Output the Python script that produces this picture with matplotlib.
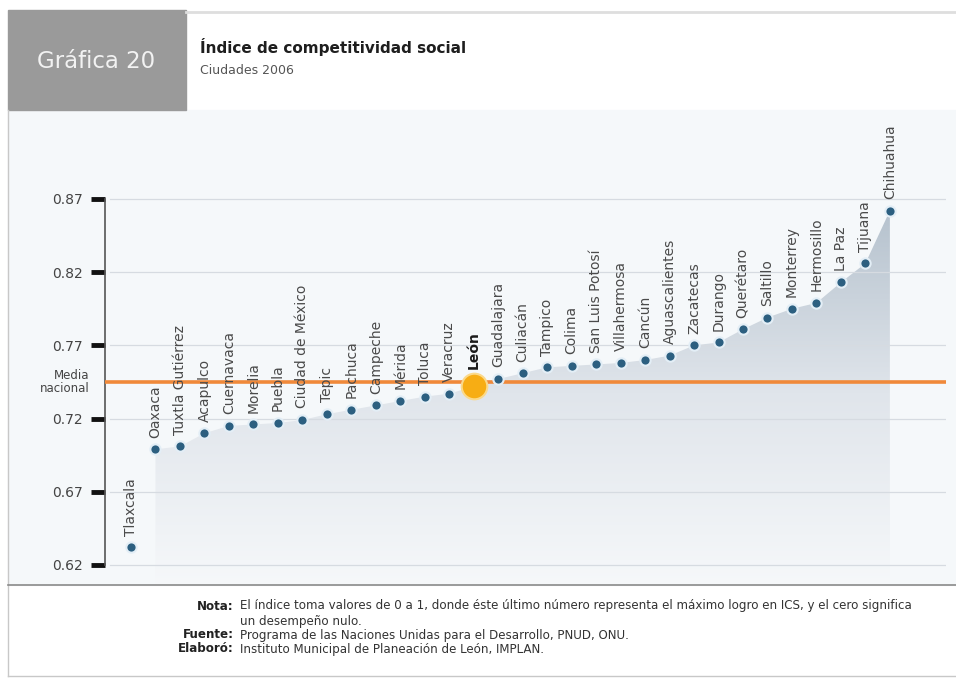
import numpy as np
import matplotlib.pyplot as plt
from matplotlib.patches import Rectangle
from matplotlib.colors import LinearSegmentedColormap

ciudades = ["Tlaxcala", "Oaxaca", "Tuxtla Gutiérrez", "Acapulco", "Cuernavaca", "Morelia",
            "Puebla", "Ciudad de México", "Tepic", "Pachuca", "Campeche", "Mérida", "Toluca",
            "Veracruz", "León", "Guadalajara", "Culiacán", "Tampico", "Colima",
            "San Luis Potosí", "Villahermosa", "Cancún", "Aguascalientes", "Zacatecas",
            "Durango", "Querétaro", "Saltillo", "Monterrey", "Hermosillo", "La Paz",
            "Tijuana", "Chihuahua"]
ics = [0.632, 0.699, 0.701, 0.710, 0.715, 0.716,
       0.717, 0.719, 0.723, 0.726, 0.729, 0.732, 0.735,
       0.737, 0.742, 0.747, 0.751, 0.755, 0.756,
       0.757, 0.758, 0.760, 0.763, 0.770,
       0.772, 0.781, 0.789, 0.795, 0.799, 0.813,
       0.826, 0.862]
media_nacional = 0.745
yticks = [0.62, 0.67, 0.72, 0.77, 0.82, 0.87]
idx_leon = ciudades.index("León")

W, H = 956, 679
fig = plt.figure(figsize=(W / 100, H / 100), dpi=100)
fig.patch.set_facecolor("white")


def fx(x):
    return x / W


def fy(y):
    return 1 - y / H


# frame pieces
fig.add_artist(Rectangle((fx(8), fy(585)), fx(948), 475 / H, color="#f5f8fa", zorder=0))
fig.add_artist(Rectangle((fx(8), fy(110)), 178 / W, 100 / H, color="#9a9a9a", zorder=1))
fig.add_artist(plt.Line2D([fx(186), 1], [fy(12), fy(12)], color="#dedede", lw=2))
fig.add_artist(plt.Line2D([fx(8), fx(8)], [fy(676), fy(110)], color="#c8c8c8", lw=1))
fig.add_artist(plt.Line2D([fx(8), 1], [fy(585), fy(585)], color="#8a8a8a", lw=1.2))
fig.add_artist(plt.Line2D([fx(8), 1], [fy(676), fy(676)], color="#c8c8c8", lw=1))

fig.text(fx(96), fy(62), "Gráfica 20", color="#f2f2f2", fontsize=16.5, ha="center", va="center")
fig.text(fx(200), fy(47), "Índice de competitividad social", color="#1e1e1e", fontsize=11,
         fontweight="bold", va="center")
fig.text(fx(200), fy(70), "Ciudades 2006", color="#555555", fontsize=9, va="center")

# axes
ax = fig.add_axes([fx(105), fy(585), (946 - 105) / W, 475 / H])
ax.patch.set_alpha(0)
per_px = 0.05 / 73.2
ax.set_xlim((105 - 131) / 24.48, (946 - 131) / 24.48)
ax.set_ylim(0.87 - 386 * per_px, 0.87 + 89 * per_px)

x = np.arange(len(ciudades))
y = np.array(ics)

# gradient fill under the curve
cmap = LinearSegmentedColormap.from_list("g", ["#f6f8fa", "#e0e5eb", "#b3c0cc"])
grad = np.linspace(0, 1, 256).reshape(-1, 1)
im = ax.imshow(grad, cmap=cmap, origin="lower", aspect="auto",
               extent=[x[1], x[-1], 0.605, 0.87], zorder=1, vmin=0, vmax=1)
poly = ax.fill_between(x[1:], y[1:], 0.60, color="none", lw=0)
im.set_clip_path(poly.get_paths()[0], transform=ax.transData)

for t in yticks:
    ax.axhline(t, xmin=0.006, color="#d6dbe1", lw=0.9, zorder=2)

ax.axhline(media_nacional, color="#f0893a", lw=2.6, zorder=3)

mask = np.arange(len(x)) != idx_leon
ax.scatter(x[mask], y[mask], s=55, color="#2c5f80", edgecolors="#e3eef6", linewidths=1.5, zorder=5)
ax.scatter([x[idx_leon]], [y[idx_leon]], s=340, color="#f7ad14", edgecolors="#fbd98a",
           linewidths=1.5, zorder=6)

for i, (xi, yi, name) in enumerate(zip(x, y, ciudades)):
    off = 0.012 if i == idx_leon else 0.008
    ax.text(xi, yi + off, name, rotation=90, ha="center", va="bottom",
            fontsize=10, color="#1a1a1a" if i == idx_leon else "#4a4a4a",
            fontweight="bold" if i == idx_leon else "normal", zorder=7)

for s in ["top", "right", "bottom"]:
    ax.spines[s].set_visible(False)
ax.spines["left"].set_bounds(0.62, 0.87)
ax.spines["left"].set_color("#555555")
ax.spines["left"].set_linewidth(1.2)
ax.set_xticks([])
ax.set_yticks(yticks)
ax.set_yticklabels(["%.2f" % t for t in yticks])
ax.tick_params(axis="y", length=10, width=3.5, color="#111111", labelsize=10,
               labelcolor="#444444", pad=6)

ax.text(-1.7, media_nacional, "Media\nnacional", ha="right", va="center", fontsize=8.5,
        color="#444444", linespacing=0.95)

# notes
nota_fs = 8.6
fig.text(fx(234), fy(606), "Nota:", ha="right", va="center", fontsize=nota_fs, fontweight="bold", color="#222222")
fig.text(fx(240), fy(606), "El índice toma valores de 0 a 1, donde éste último número representa el máximo logro en ICS, y el cero significa",
         va="center", fontsize=nota_fs, color="#333333")
fig.text(fx(240), fy(621), "un desempeño nulo.", va="center", fontsize=nota_fs, color="#333333")
fig.text(fx(234), fy(635), "Fuente:", ha="right", va="center", fontsize=nota_fs, fontweight="bold", color="#222222")
fig.text(fx(240), fy(635), "Programa de las Naciones Unidas para el Desarrollo, PNUD, ONU.", va="center",
         fontsize=nota_fs, color="#333333")
fig.text(fx(234), fy(649), "Elaboró:", ha="right", va="center", fontsize=nota_fs, fontweight="bold", color="#222222")
fig.text(fx(240), fy(649), "Instituto Municipal de Planeación de León, IMPLAN.", va="center",
         fontsize=nota_fs, color="#333333")

fig.savefig("out.png", dpi=100)
